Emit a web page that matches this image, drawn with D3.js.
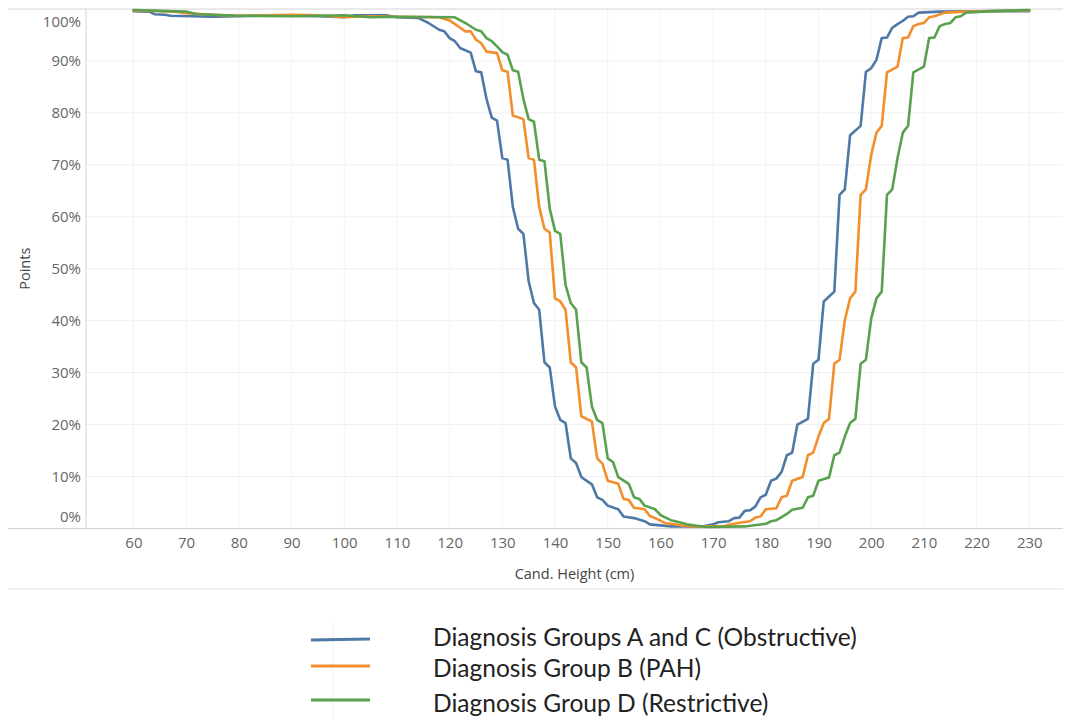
<!DOCTYPE html>
<html>
<head>
<meta charset="utf-8">
<script src="https://cdn.jsdelivr.net/npm/d3@7"></script>
<style>
  html, body { margin: 0; padding: 0; background: #fff; }
  svg { display: block; }
</style>
</head>
<body>
<svg id="chart" width="1065" height="719"></svg>
<script>
// ---------- DATA ----------
const seriesNames = [
  "Diagnosis Groups A and C (Obstructive)",
  "Diagnosis Group B (PAH)",
  "Diagnosis Group D (Restrictive)"
];
const seriesColors = ["#4e79a7", "#f28e2b", "#59a14f"];

const xTicks = [60,70,80,90,100,110,120,130,140,150,160,170,180,190,200,210,220,230];
const yTicks = [0,10,20,30,40,50,60,70,80,90,100];

// Blue: Diagnosis Groups A and C (Obstructive)  [height cm, points %]
const obstructiveH = [60,63,64,66,67,75,80,85,90,95,100,102,108,110,114,115,116,118,119,120,121,122,124,125,126,127,128,129,130,131,132,133,134,135,136,137,138,139,140,141,142,143,144,145,147,148,149,150,152,153,155,157,158,160,162,168,170,171,173,174,175,176,177,178,179,180,181,182,183,184,185,186,188,189,190,191,193,194,195,196,198,199,200,201,202,203,204,205,206,207,208,209,213,224,230];
const obstructiveV = [99.6,99.5,99.0,98.9,98.7,98.5,98.6,98.8,98.7,98.6,98.4,98.8,98.8,98.4,98.3,97.8,97.3,96.0,95.7,94.4,93.8,92.5,91.6,88.0,87.8,82.7,79.1,78.5,71.3,71.0,61.9,57.7,56.7,47.6,43.4,42.1,32.0,31.0,23.5,20.9,20.3,13.5,12.6,9.9,8.5,6.0,5.5,4.4,3.7,2.3,2.0,1.4,0.8,0.6,0.4,0.4,0.8,1.2,1.4,2.0,2.1,3.4,3.5,4.2,6.0,6.5,9.2,9.6,10.9,14.1,14.6,20.0,21.1,31.7,32.5,43.7,45.6,64.2,65.3,75.7,77.5,87.9,88.6,90.2,94.4,94.5,96.4,97.1,97.7,98.5,98.6,99.3,99.5,99.6,99.6];

// Orange: Diagnosis Group B (PAH)
const pahH = [60,68,70,75,80,85,90,95,100,105,110,118,120,122,123,124,125,126,127,129,130,131,132,134,135,136,137,138,139,140,141,142,143,144,145,147,148,149,150,152,153,154,155,157,158,159,160,161,162,164,166,172,173,175,177,178,179,180,182,183,184,185,187,188,189,190,191,192,193,194,195,196,197,198,199,200,201,202,203,205,206,207,208,209,210,211,212,214,218,230];
const pahV = [99.7,99.5,99.2,98.9,98.7,98.8,98.9,98.8,98.4,98.6,98.5,98.4,97.8,96.4,95.7,95.7,94.1,93.4,91.8,91.5,88.2,87.9,79.5,78.8,71.3,71.0,61.9,57.7,57.0,44.3,43.7,42.1,32.0,31.0,21.6,20.6,13.5,12.5,9.2,8.6,5.7,5.5,4.0,3.7,2.4,2.0,1.5,1.0,0.9,0.6,0.4,0.4,0.7,1.1,1.4,2.1,2.3,3.7,3.9,6.0,6.3,9.2,9.9,14.1,14.6,17.7,20.3,21.1,31.7,32.5,40.1,44.3,45.6,64.2,65.3,71.9,76.2,77.5,87.8,88.9,94.4,94.5,96.7,97.1,97.3,98.4,98.6,99.3,99.5,99.7];

// Green: Diagnosis Group D (Restrictive)
const restrictiveH = [60,70,72,75,80,90,95,100,105,110,121,123,125,126,127,128,129,130,131,132,133,134,135,136,137,138,139,140,141,142,143,144,145,146,147,148,149,150,151,152,154,155,156,157,159,160,161,162,164,165,167,169,176,180,181,182,183,184,185,187,188,189,190,192,193,194,195,196,197,198,199,200,201,202,203,204,205,206,207,208,210,211,212,213,214,215,216,217,218,223,230];
const restrictiveV = [99.8,99.5,99.0,98.9,98.7,98.6,98.7,98.8,98.4,98.5,98.4,97.3,96.0,95.7,94.4,93.8,92.8,91.7,91.2,88.2,87.9,82.7,78.8,78.3,71.0,70.7,61.6,57.3,56.7,46.9,43.4,42.1,32.0,31.0,23.5,20.9,20.3,13.5,12.8,9.9,8.6,6.0,5.7,4.4,3.7,2.6,2.1,1.6,1.1,0.8,0.5,0.3,0.4,0.9,1.4,1.6,2.2,2.8,3.6,4.0,6.0,6.3,9.2,9.8,14.1,14.6,17.7,20.3,21.1,31.7,32.5,40.4,44.3,45.6,64.2,65.3,71.3,76.2,77.5,87.8,88.9,94.4,94.5,96.7,97.1,97.3,98.4,98.6,99.3,99.6,99.8];

const seriesH = [obstructiveH, pahH, restrictiveH];
const seriesV = [obstructiveV, pahV, restrictiveV];

// ---------- LAYOUT ----------
const svg = d3.select("#chart");
const pLeft = 86, pRight = 1063, pTop = 9, pBottom = 528.5;

const x = d3.scaleLinear().domain([51, 236.4]).range([pLeft, pRight]);
const y = d3.scaleLinear().domain([0, 100]).range([pBottom, pTop]);

const font = "'Open Sans', 'Noto Sans', sans-serif";

// gridlines
svg.append("g").selectAll("line").data(yTicks.filter(d => d > 0 && d < 100)).join("line")
  .attr("x1", pLeft).attr("x2", pRight)
  .attr("y1", d => y(d)).attr("y2", d => y(d))
  .attr("stroke", "#efefef").attr("stroke-width", 1);
svg.append("g").selectAll("line").data(xTicks).join("line")
  .attr("x1", d => x(d)).attr("x2", d => x(d))
  .attr("y1", pTop).attr("y2", pBottom)
  .attr("stroke", "#f3f3f3").attr("stroke-width", 1);

// frame lines
const frame = "#d4d4d4";
svg.append("line").attr("x1", 8).attr("x2", pRight).attr("y1", pTop).attr("y2", pTop).attr("stroke", frame);
svg.append("line").attr("x1", pLeft).attr("x2", pLeft).attr("y1", pTop).attr("y2", pBottom).attr("stroke", frame);
svg.append("line").attr("x1", 8).attr("x2", pRight).attr("y1", pBottom).attr("y2", pBottom).attr("stroke", frame);
svg.append("line").attr("x1", 8).attr("x2", pRight).attr("y1", 589).attr("y2", 589).attr("stroke", "#e2e2e2");

// y axis
const yAxis = svg.append("g").attr("transform", `translate(${pLeft - 5},0)`)
  .call(d3.axisLeft(y).tickValues(yTicks).tickSize(0).tickPadding(0).tickFormat(d => d + "%"));
yAxis.select(".domain").remove();
yAxis.selectAll("text").attr("font-family", font).attr("font-size", 15).attr("fill", "#666");
yAxis.selectAll(".tick").filter(d => d === 100).attr("transform", `translate(0,${y(100) + 12.7})`);
yAxis.selectAll(".tick").filter(d => d === 0).attr("transform", `translate(0,${y(0) - 11.5})`);

// x axis
const xAxis = svg.append("g").attr("transform", `translate(0,${pBottom + 9})`)
  .call(d3.axisBottom(x).tickValues(xTicks).tickSize(0).tickPadding(0).tickFormat(d => d));
xAxis.select(".domain").remove();
xAxis.selectAll("text").attr("font-family", font).attr("font-size", 15).attr("fill", "#666");

// axis titles
svg.append("text").attr("x", (pLeft + pRight) / 2).attr("y", 574).attr("dy", "0.35em")
  .attr("text-anchor", "middle").attr("font-family", font).attr("font-size", 14.5).attr("fill", "#444")
  .text("Cand. Height (cm)");
svg.append("text").attr("transform", `translate(25,${(pTop + pBottom) / 2}) rotate(-90)`)
  .attr("dy", "0.35em").attr("text-anchor", "middle").attr("font-family", font).attr("font-size", 14.5).attr("fill", "#444")
  .text("Points");

// lines
const line = d3.line().x(d => x(d[0])).y(d => y(d[1]));
const plot = svg.append("g");
seriesH.forEach((hs, i) => {
  const pts = hs.map((h, j) => [h, seriesV[i][j]]);
  plot.append("path").datum(pts)
    .attr("d", line)
    .attr("fill", "none")
    .attr("stroke", seriesColors[i])
    .attr("stroke-width", 2.6)
    .attr("stroke-linejoin", "round")
    .attr("stroke-linecap", "round");
});

// legend
svg.append("line").attr("x1", 333).attr("x2", 333).attr("y1", 622).attr("y2", 719).attr("stroke", "#f2f2f2");
const legY = [640, 666, 700];
const legTextY = [637, 668, 703];
const lg = svg.append("g");
seriesNames.forEach((n, i) => {
  lg.append("line").attr("x1", 311).attr("x2", 370)
    .attr("y1", legY[i]).attr("y2", legY[i] - (i === 0 ? 1 : 0))
    .attr("stroke", seriesColors[i]).attr("stroke-width", 3);
});
const legFont = "Lato, 'Open Sans', sans-serif";
const t0 = lg.append("text").attr("font-family", legFont).attr("font-size", 20).text(seriesNames[0]);
const w0 = t0.node().getComputedTextLength();
t0.remove();
const legSize = 20 * 424 / w0;
seriesNames.forEach((n, i) => {
  lg.append("text").attr("x", 433).attr("y", legTextY[i]).attr("dy", "0.35em")
    .attr("font-family", legFont).attr("font-size", legSize).attr("fill", "#222")
    .text(n);
});
</script>
</body>
</html>
